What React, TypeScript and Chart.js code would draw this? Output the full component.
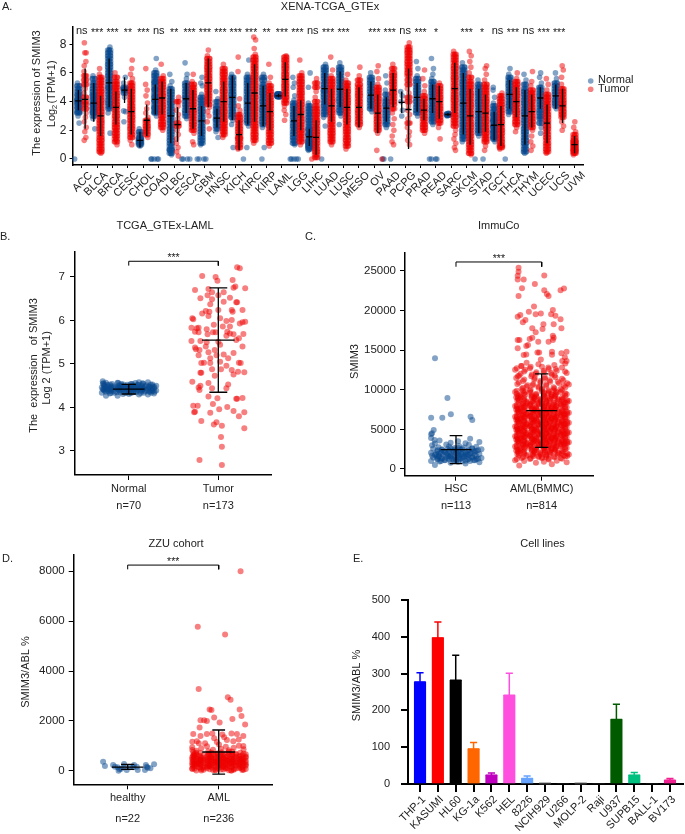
import React, { useEffect, useRef } from "react";
import { Chart, registerables } from "chart.js";

Chart.register(...registerables);

const FONT = "'Liberation Sans', Arial, sans-serif";
const INK = "#222222";
const BLUE = "rgba(8,72,142,0.5)";
const RED = "rgba(240,0,0,0.5)";

/* ---------- Panel A ---------- */
const cancers = ["ACC","BLCA","BRCA","CESC","CHOL","COAD","DLBC","ESCA","GBM","HNSC","KICH","KIRC","KIRP","LAML","LGG","LIHC","LUAD","LUSC","MESO","OV","PAAD","PCPG","PRAD","READ","SARC","SKCM","STAD","TGCT","THCA","THYM","UCEC","UCS","UVM"];
const cancerSig = ["ns","***","***","**","***","ns","**","***","***","***","***","***","**","***","***","ns","***","***","","***","***","ns","***","*","","***","*","ns","***","ns","***","***",""];
const normalA: number[][] = [
  [0,2.5,3.0,3.2,3.3,3.5,3.6,3.8,3.9,4.0,4.1,4.2,4.4,4.5,4.7,4.9,5.1,5.3],
  [2.1,2.8,3.0,3.2,3.3,3.5,3.6,3.8,3.9,4.1,4.2,4.4,4.5,4.7,4.9,5.1,5.3,5.6,5.8],
  [1.8,3.2,3.5,3.7,3.9,4.1,4.3,4.5,4.7,4.9,5.0,5.2,5.4,5.6,5.8,6.0,6.2,6.4,6.6,6.8,7.0,7.2,7.4,7.6,7.8],
  [2.6,3.3,3.35,4.3,4.6,4.8,4.9,5.0,5.3,5.7],
  [0.9,1.0,1.1,1.2,1.3,1.4,1.5,1.7,1.9,2.1],
  [0,0,0,0,0,3.0,3.2,3.3,3.5,3.6,3.8,4.0,4.1,4.3,4.4,4.6,4.8,4.9,5.1,5.3,5.4,5.6,5.8,6.0,6.2,7.0],
  [0.3,0.4,0.6,0.7,0.9,1.1,1.3,1.5,1.7,1.9,2.1,2.3,2.5,2.7,2.9,3.1,3.3,3.5,3.7,3.9,4.1,4.3,4.5,4.7,4.9,5.1,5.4,5.9],
  [0,0,0,0,2.8,3.0,3.2,3.4,3.6,3.8,4.0,4.2,4.3,4.5,4.7,4.9,5.1,5.3,5.6,5.9,6.7],
  [0,0,0,0,1.0,1.1,1.3,1.5,1.7,1.9,2.1,2.3,2.5,2.7,2.9,3.1,3.3,3.5,3.7,3.9,4.1,4.3,4.5,5.1,5.3,5.7],
  [1.5,1.9,2.1,2.3,2.5,2.7,2.8,3.0,3.2,3.3,3.5,3.7,4.0,4.2,4.7],
  [0.8,2.4,2.7,2.9,3.1,3.3,3.5,3.7,3.9,4.1,4.3,4.5,4.7,4.9,5.1,5.3,5.5,5.7,5.9],
  [0,0.8,2.3,2.5,2.7,2.9,3.1,3.3,3.5,3.7,3.9,4.1,4.3,4.5,4.7,4.9,5.1,5.3,5.5,5.7,5.9,6.9],
  [0,0.8,2.2,2.4,2.6,2.8,3.0,3.2,3.4,3.6,3.8,4.0,4.2,4.4,4.6,4.8,5.0,5.2,5.5,5.7,5.9],
  [4.3,4.35,4.4,4.4,4.45,4.45,4.5,4.5,4.55,4.35,4.4,4.45],
  [0,0,0,0,0,1.0,1.1,1.3,1.5,1.7,1.9,2.1,2.3,2.5,2.7,2.9,3.1,3.3,3.5,3.7,3.9,4.1,4.4,5.0,5.3,5.7],
  [0.6,0.7,0.8,0.9,1.0,1.1,1.2,1.3,1.4,1.6,1.7,1.8,2.0,2.1,2.3,2.5,2.7,2.9,3.1,3.3,3.5,3.7,3.9,5.0,6.0],
  [0,2.3,2.9,3.1,3.3,3.5,3.7,3.9,4.1,4.3,4.5,4.7,4.8,5.0,5.2,5.4,5.6,5.8,6.0,6.2,6.4,6.6],
  [2.4,3.0,3.2,3.4,3.6,3.8,4.0,4.2,4.4,4.6,4.8,5.0,5.2,5.4,5.6,5.8,6.0,6.2,6.4,6.7],
  [],
  [3.3,3.5,3.7,3.9,4.1,4.3,4.5,4.7,4.9,5.1,5.3,5.5,5.7,6.0],
  [0,0,0,2.2,2.4,2.6,2.8,3.0,3.2,3.4,3.6,3.8,4.0,4.2,4.5,4.8,5.3,5.8],
  [3.0,3.4,4.0,4.4,4.7],
  [3.0,3.2,3.4,3.6,3.8,4.0,4.2,4.4,4.6,4.8,5.0,5.2,5.4,5.6,5.8,6.3,6.8],
  [0,0,0,0,2.4,2.6,2.8,3.0,3.2,3.4,3.6,3.8,4.0,4.2,4.4,4.6,4.8,5.0,5.2,5.4,5.6,5.9,6.3,7.0],
  [3.0,3.05,3.1,3.15,3.2],
  [1.2,1.4,1.6,1.8,2.0,2.2,2.4,2.6,2.8,3.0,3.2,3.4,3.6,3.8,4.0,4.2,4.4,4.6,4.8,5.0,5.2,5.4,5.6,5.8,6.0,6.2,6.4,6.7],
  [0,0,1.6,1.8,2.0,2.2,2.4,2.6,2.8,3.0,3.2,3.4,3.6,3.8,4.0,4.2,4.4,4.6,4.8,5.0,5.2,5.5],
  [1.2,1.4,1.5,1.6,1.8,1.9,2.0,2.2,2.3,2.4,2.6,2.7,2.8,3.0,3.1,3.3,3.5,3.7,3.9,4.3,4.8,5.0],
  [0,3.1,3.3,3.5,3.7,3.9,4.1,4.3,4.5,4.7,4.9,5.1,5.3,5.5,5.7,5.9,6.3],
  [0.4,0.5,0.7,0.9,1.1,1.3,1.5,1.7,1.9,2.1,2.3,2.5,2.7,2.9,3.1,3.3,3.5,3.7,3.9,4.1,4.3,4.5,4.7,4.9,5.2,5.5,5.9],
  [1.8,2.2,2.5,2.8,3.0,3.2,3.4,3.6,3.8,4.0,4.2,4.4,4.6,4.8,5.0,5.3,5.7,6.0],
  [3.5,3.7,3.9,4.1,4.3,4.5,4.7,4.9,5.1,5.3,5.6,6.0],
  [],
];
const tumorA: number[][] = [
  [1.3,1.5,1.9,2.2,2.6,2.9,3.2,3.5,3.8,4.0,4.3,4.6,4.9,5.2,5.5,5.8,6.1,6.5,6.8,7.4,7.4,8.1],
  [0.4,0.5,0.7,0.9,1.1,1.3,1.5,1.7,1.9,2.1,2.3,2.5,2.7,2.9,3.1,3.3,3.5,3.7,3.9,4.1,4.3,4.5,4.7,4.9,5.1,5.3,5.5,5.7,5.9,6.3],
  [1.0,1.2,1.4,1.6,1.8,2.0,2.2,2.4,2.6,2.8,3.0,3.2,3.4,3.6,3.8,4.0,4.2,4.4,4.6,4.8,5.0,5.2,5.4,5.7,6.0],
  [1.0,1.3,1.5,1.7,1.9,2.1,2.3,2.5,2.7,2.9,3.1,3.3,3.5,3.7,3.9,4.1,4.3,4.5,4.7,4.9,5.1,5.3,5.6,5.9,6.3,6.9],
  [1.5,1.7,1.9,2.1,2.3,2.5,2.7,2.9,3.2,3.5,3.9,4.4,4.8,5.2,6.3],
  [2.0,2.2,2.4,2.6,2.8,3.0,3.2,3.4,3.6,3.8,4.0,4.2,4.4,4.6,4.8,5.0,5.2,5.4,5.6,5.8,6.6],
  [0.2,0.5,0.8,1.1,1.4,1.7,2.0,2.3,2.5,2.8,3.1,3.4,3.7,4.0,4.3],
  [1.0,1.2,1.8,2.0,2.2,2.4,2.6,2.8,3.0,3.2,3.4,3.6,3.8,4.0,4.2,4.4,4.6,4.8,5.0,5.2,5.4,5.9],
  [2.1,2.6,3.0,3.3,3.6,3.8,4.0,4.2,4.4,4.6,4.8,5.0,5.2,5.4,5.6,5.8,6.0,6.2,6.4,6.6,6.8,7.0,7.2,7.6],
  [1.5,1.7,1.9,2.1,2.3,2.5,2.7,2.9,3.1,3.3,3.5,3.7,3.9,4.1,4.3,4.5,4.7,4.9,5.1,5.3,5.5,5.7,5.9,6.1,6.3,6.6],
  [0.7,0.8,1.0,1.2,1.4,1.5,1.7,1.9,2.1,2.3,2.5,2.7,2.9,3.1,3.4,3.7,4.2,6.1,7.1],
  [1.1,1.3,1.5,1.7,1.9,2.1,2.3,2.5,2.7,2.9,3.1,3.3,3.5,3.7,3.9,4.1,4.3,4.5,4.7,4.9,5.1,5.3,5.5,5.7,5.9,6.1,6.3,6.5,6.7,6.9,7.1,7.3,7.7,8.3,8.5],
  [0.9,1.1,1.3,1.5,1.7,1.9,2.1,2.3,2.5,2.7,2.9,3.1,3.3,3.5,3.7,3.9,4.1,4.3,4.5,4.7,4.9,5.1,5.3,5.7,6.6],
  [2.7,3.1,3.4,3.7,3.9,4.1,4.3,4.5,4.7,4.9,5.1,5.3,5.5,5.7,5.9,6.1,6.3,6.5,6.7,6.9,7.1,7.2],
  [1.0,1.2,1.4,1.6,1.8,2.0,2.2,2.4,2.6,2.8,3.0,3.2,3.4,3.6,3.8,4.0,4.2,4.4,4.6,4.8,5.0,5.2,5.4,5.6,5.8,6.0,6.9],
  [0,0.1,0.3,0.5,0.7,0.9,1.1,1.3,1.5,1.7,1.9,2.1,2.3,2.5,2.7,2.9,3.1,3.3,3.5,3.7,4.0,4.3,4.7,5.0,5.3,5.6],
  [1.0,1.2,1.4,1.6,1.8,2.0,2.2,2.4,2.6,2.8,3.0,3.2,3.4,3.6,3.8,4.0,4.2,4.4,4.6,4.8,5.0,5.2,5.4,5.6,5.8,6.2,7.1],
  [0.7,0.9,1.1,1.3,1.5,1.7,1.9,2.1,2.3,2.5,2.7,2.9,3.1,3.3,3.5,3.7,3.9,4.1,4.3,4.5,4.7,4.9,5.1,5.3,5.5,5.9],
  [2.2,2.4,2.6,2.8,3.0,3.2,3.4,3.6,3.8,4.0,4.2,4.4,4.6,4.8,5.0,5.2,5.5,5.8,6.4],
  [0,0.6,1.8,2.0,2.2,2.4,2.6,2.8,3.0,3.2,3.4,3.6,3.8,4.0,4.2,4.4,4.6,4.8,5.0,5.2,5.6,6.1,6.5],
  [1.0,1.2,1.6,2.0,2.4,2.8,3.2,3.5,3.8,4.0,4.2,4.4,4.6,4.8,5.0,5.2,5.4,5.6,5.8,6.0,6.3,6.6],
  [1.0,1.3,1.6,1.9,2.2,2.5,2.8,3.1,3.4,3.7,4.0,4.3,4.6,4.9,5.2,5.5,5.8,6.0,6.2,6.4,6.6,6.8,7.0,7.2,7.4,7.6,7.8,8.1],
  [1.8,2.0,2.2,2.4,2.6,2.8,3.0,3.2,3.4,3.6,3.8,4.0,4.2,4.4,4.7,5.1,5.6,6.2],
  [1.4,2.2,2.5,2.7,2.9,3.1,3.3,3.5,3.7,3.9,4.1,4.3,4.5,4.7,4.9,5.1,5.3],
  [0.6,0.8,1.1,1.4,1.7,2.0,2.3,2.5,2.7,2.9,3.1,3.3,3.5,3.7,3.9,4.1,4.3,4.5,4.7,4.9,5.1,5.3,5.5,5.7,5.9,6.1,6.3,6.5,6.7,6.9,7.1,7.3,7.5],
  [0.3,0.4,0.6,0.8,1.0,1.2,1.4,1.6,1.8,2.0,2.2,2.4,2.6,2.8,3.0,3.2,3.4,3.6,3.8,4.0,4.2,4.4,4.6,4.8,5.0,5.2,5.4,5.7,6.0,6.4,6.8,7.2,7.5],
  [0.6,0.9,1.2,1.4,1.6,1.8,2.0,2.2,2.4,2.6,2.8,3.0,3.2,3.4,3.6,3.8,4.0,4.2,4.4,4.6,4.8,5.0,5.2,5.5,5.9,6.3,6.5],
  [0.7,0.8,0.9,1.0,1.2,1.4,1.6,1.8,2.0,2.2,2.4,2.6,2.8,3.0,3.2,3.4,3.6,3.8,4.0,4.2,4.4,4.6],
  [1.9,2.2,2.4,2.6,2.8,3.0,3.2,3.4,3.6,3.8,4.0,4.2,4.4,4.6,4.8,5.0,5.2,5.4,5.6,6.0],
  [0.6,0.9,1.2,1.6,2.0,2.2,2.4,2.6,2.8,3.0,3.2,3.4,3.6,3.8,4.0,4.2,4.4,4.6,4.8,5.1,5.4,6.1],
  [0.4,0.5,0.7,0.9,1.1,1.3,1.5,1.7,1.9,2.1,2.3,2.5,2.7,2.9,3.1,3.3,3.5,3.7,3.9,4.1,4.3,4.5,4.8,5.2,5.6],
  [2.0,2.3,2.6,2.9,3.1,3.3,3.5,3.7,3.9,4.1,4.3,4.5,4.7,4.9,5.2,5.7,6.2,6.5],
  [0.3,0.4,0.5,0.6,0.7,0.8,0.9,1.0,1.1,1.2,1.3,1.5,1.7,1.9,2.2,2.6],
];
const normalMeanA = [4.05,3.9,5.3,4.8,1.3,4.15,3.0,4.2,2.65,2.85,4.3,3.9,3.7,4.4,2.65,1.55,4.9,4.86,null,4.45,3.55,3.95,4.3,4.2,3.1,3.9,3.3,2.35,4.5,3.0,4.25,4.4,null];
const normalLowA = [3.4,2.6,3.6,3.9,0.8,3.1,1.1,3.2,1.6,2.2,2.7,2.4,2.3,4.3,1.6,0.9,3.8,3.6,null,3.5,2.6,3.2,3.3,3.2,3.0,1.7,1.8,1.3,3.5,1.0,3.5,3.5,null];
const normalHighA = [4.8,5.3,7.0,5.7,1.9,5.2,4.9,5.3,3.7,3.5,5.8,5.3,5.1,4.55,3.7,2.1,6.0,6.1,null,5.4,4.3,4.7,5.3,5.2,3.2,6.0,4.9,3.3,5.5,4.8,5.0,5.2,null];
const tumorMeanA = [4.15,3.0,3.6,3.3,2.7,4.25,2.4,3.5,5.3,4.0,1.7,4.6,3.3,5.55,3.1,1.5,3.7,3.6,3.6,3.2,4.8,3.45,3.4,4.0,4.9,3.0,3.2,2.4,4.0,3.3,2.5,3.7,1.0];
const tumorLowA = [2.1,1.6,2.4,1.7,1.6,3.1,1.2,2.1,3.6,2.6,0.6,2.6,2.0,4.35,2.0,0.3,2.6,2.4,2.2,1.8,3.6,0.7,2.7,2.8,3.2,1.0,1.9,0.9,2.9,2.2,1.1,2.5,0.4];
const tumorHighA = [6.3,4.4,4.7,4.9,3.8,5.4,3.6,4.8,7.0,5.4,2.7,6.6,4.6,6.75,4.1,2.7,4.9,4.9,5.0,4.5,6.0,6.3,4.2,5.1,6.7,4.9,4.5,3.7,5.0,4.5,3.8,4.9,1.6];
const yTicksA = [0,2,4,6,8];

/* jitter tables used to spread dots sideways */
const jitterNarrow = [-0.06,0.05,-0.02,0.07,-0.05,0.02,0.06,-0.07,0.04,-0.04,0.07,-0.06,0.0,0.05,-0.05,0.03,-0.07];
const jitterWide = [-0.82,0.37,-0.21,0.91,0.08,-0.64,0.55,-0.97,0.26,-0.43,0.74,0.01,-0.73,0.46,-0.12,0.86,-0.55,0.17,-0.33,0.99,-0.89,0.63,-0.05,0.31,-0.68,0.79,-0.27,0.12,-0.93,0.5,-0.38];

/* ---------- Panel B ---------- */
const groupsB = ["Normal","Tumor"];
const countsB = ["n=70","n=173"];
const normalB = [4.27,4.3,4.31,4.32,4.33,4.33,4.34,4.34,4.35,4.35,4.36,4.36,4.37,4.37,4.37,4.38,4.38,4.39,4.39,4.39,4.4,4.4,4.4,4.41,4.41,4.41,4.42,4.42,4.42,4.43,4.43,4.43,4.44,4.44,4.44,4.45,4.45,4.45,4.46,4.46,4.46,4.47,4.47,4.48,4.48,4.48,4.49,4.49,4.5,4.5,4.5,4.51,4.51,4.52,4.52,4.53,4.53,4.54,4.54,4.55,4.55,4.56,4.57,4.58];
const normalBOutliers: [number, number][] = [[-0.29,4.6]];
const tumorB: [number, number][] = [[0.21,7.22],[0.24,7.2],[-0.18,7.02],[-0.03,7.0],[-0.01,6.91],[0.16,6.93],[-0.26,6.7],[-0.11,6.72],[0.3,6.74],[0.19,6.78],[0.17,6.75],[-0.07,6.65],[-0.2,6.51],[-0.12,6.58],[0,6.58],[0.13,6.52],[0.06,6.65],[-0.07,6.49],[-0.09,6.37],[0.06,6.43],[0.21,6.42],[0.2,6.42],[-0.29,6.05],[-0.28,6.03],[-0.18,6.16],[-0.14,6.22],[-0.1,6.2],[-0.11,6.1],[0,6.24],[0.15,6.24],[0.16,6.2],[0.27,6.24],[0.02,6.05],[0.15,6.01],[0.09,5.99],[0.3,5.97],[0.27,5.96],[0.24,5.93],[-0.05,5.9],[0.05,5.86],[0.13,5.86],[-0.3,5.83],[-0.24,5.82],[-0.22,5.83],[-0.26,5.74],[-0.22,5.73],[-0.13,5.8],[-0.06,5.73],[-0.03,5.73],[-0.12,5.68],[0.1,5.74],[0.13,5.7],[0.17,5.68],[0.09,5.65],[0.28,5.69],[0.23,5.59],[0.2,5.55],[-0.3,5.53],[-0.2,5.53],[-0.13,5.5],[0,5.51],[0.02,5.44],[0.27,5.4],[-0.26,5.38],[-0.21,5.32],[-0.14,5.4],[-0.25,5.34],[-0.04,5.32],[-0.11,5.27],[0.06,5.22],[0.17,5.25],[-0.22,5.2],[-0.02,5.2],[0.11,5.13],[-0.09,5.13],[-0.16,5.03],[-0.19,5.02],[-0.09,5.02],[0.23,5.03],[0.25,5.02],[0.02,5.05],[0.09,4.96],[-0.07,4.88],[0.03,4.88],[0.15,4.86],[0.22,4.82],[0.29,4.81],[-0.19,4.8],[-0.2,4.8],[0.17,4.76],[-0.04,4.73],[-0.29,4.59],[-0.11,4.56],[0.11,4.53],[-0.2,4.5],[-0.22,4.46],[-0.07,4.44],[0.09,4.44],[-0.21,4.4],[-0.11,4.25],[-0.01,4.21],[0.21,4.2],[0.2,4.2],[0.27,4.22],[-0.06,4.08],[-0.28,4.04],[-0.23,4.04],[0.01,3.96],[0.1,4.01],[0.17,3.92],[-0.26,3.9],[-0.27,3.89],[-0.09,3.88],[0.29,3.89],[0.23,3.8],[-0.19,3.69],[-0.02,3.66],[-0.05,3.61],[0.04,3.58],[0.29,3.52],[0.03,3.32],[0.04,3.1],[-0.21,2.79],[0.04,2.68]];
const statsB = { mean: [4.42,5.55], low: [4.31,4.35], high: [4.53,6.75] };
const yTicksB = [3,4,5,6,7];

/* ---------- Panel C ---------- */
const groupsC = ["HSC","AML(BMMC)"];
const countsC = ["n=113","n=814"];
const hscSparse: [number, number][] = [[-0.245,13950],[-0.1,8950],[-0.06,6890],[-0.29,6470],[-0.16,6470],[0.17,6600],[0.19,6180],[-0.26,4920],[-0.28,4500],[-0.29,4380],[-0.25,3650]];
const hscDense = [500,700,800,850,900,950,1000,1000,1050,1100,1100,1150,1200,1200,1250,1300,1300,1350,1400,1400,1450,1500,1500,1550,1600,1600,1650,1700,1700,1750,1800,1800,1850,1900,1900,1950,2000,2000,2050,2100,2150,2200,2200,2250,2300,2300,2350,2400,2450,2500,2500,2550,2600,2650,2700,2750,2800,2850,2900,3000,3050,3100,3200,3250,3300,3400,3500,3600,3800,3900];
const amlSparse: [number, number][] = [[-0.27,25380],[-0.27,24870],[-0.28,24370],[-0.28,23900],[-0.21,23900],[0.03,24400],[-0.08,23320],[-0.23,22800],[0.03,22520],[0.06,22060],[0.08,21800],[-0.27,21800],[0.26,22770],[0.22,22520],[-0.09,20500],[-0.15,19830],[-0.07,19500],[-0.01,19620],[0.13,20040],[0.11,19500],[-0.28,19200],[-0.25,19400],[0.16,19330],[0.22,18870],[-0.19,18780],[-0.22,18490],[0.02,18240],[0.14,18240],[-0.11,17730],[0.23,17730],[0.01,17650],[-0.07,17230],[0.13,16800],[0.14,16550],[-0.11,16550],[-0.26,16260],[-0.28,16260],[-0.14,16390],[-0.04,16050],[0.08,16050],[0.13,16260],[-0.16,15630],[-0.18,15500],[-0.28,15210],[-0.05,14700],[-0.03,14700],[0.12,14790],[0.29,14790],[0.23,14580],[-0.18,14450],[-0.21,14370],[0.12,14400],[-0.01,13800],[0.27,14100],[0.24,13600],[0.29,13600],[-0.24,13000]];
const amlDense = [450,600,800,850,900,1000,1050,1100,1200,1250,1300,1350,1400,1480,1520,1600,1650,1700,1780,1820,1900,1950,2000,2050,2120,2180,2220,2300,2340,2400,2440,2500,2560,2600,2650,2700,2750,2800,2830,2900,2950,3000,3030,3080,3120,3150,3200,3240,3280,3320,3360,3400,3430,3480,3520,3560,3600,3630,3680,3720,3750,3800,3840,3880,3910,3950,4000,4030,4070,4120,4150,4200,4230,4280,4320,4360,4400,4430,4480,4520,4560,4600,4630,4680,4720,4750,4800,4840,4880,4910,4950,5000,5030,5070,5120,5150,5200,5230,5280,5320,5360,5400,5430,5480,5520,5560,5600,5630,5680,5720,5750,5800,5840,5880,5910,5950,6000,6030,6070,6120,6150,6200,6230,6280,6320,6360,6400,6430,6480,6520,6560,6600,6630,6680,6720,6750,6800,6840,6880,6910,6950,7000,7040,7090,7130,7180,7220,7270,7310,7360,7400,7450,7490,7540,7580,7630,7680,7720,7770,7810,7860,7900,7950,8000,8040,8090,8150,8200,8250,8300,8350,8400,8460,8510,8560,8620,8670,8720,8780,8830,8900,8950,9000,9060,9130,9180,9250,9300,9370,9430,9500,9560,9630,9700,9780,9850,9930,10000,10080,10150,10250,10320,10400,10480,10550,10650,10720,10800,10900,11000,11080,11180,11280,11380,11480,11580,11680,11780,11900,12000,12100,12200,12300,12400,12500,12600,12700,12800,12900,13000,13100,13200,13300,13400];
const statsC = { mean: [2450,7350], low: [680,2730], high: [4200,12000] };
const yTicksC = [0,5000,10000,15000,20000,25000];

/* ---------- Panel D ---------- */
const groupsD = ["healthy","AML"];
const countsD = ["n=22","n=236"];
const healthyD: [number, number][] = [[-0.27,361],[-0.25,187],[-0.16,228],[-0.11,134],[-0.09,54],[-0.04,268],[-0.04,160],[-0.01,27],[0.03,134],[0.07,228],[0.06,134],[0.11,27],[0.19,27],[0.2,228],[0.22,120],[0.21,160],[0.25,94],[0.29,254],[-0.1,0],[-0.14,160],[-0.07,80],[0.1,160]];
const amlSparseD: [number, number][] = [[0.24,8000],[-0.23,5780],[0.07,5460],[-0.22,3280],[0.1,2945],[0.13,2850],[-0.1,2460],[-0.08,2440],[0.23,2460],[0.25,2195],[-0.05,2130],[0.15,2075],[-0.2,2020],[-0.16,2020],[-0.13,1995],[0.01,1930],[0.29,1850],[-0.21,1730],[-0.28,1470],[-0.13,1470],[-0.07,1490],[-0.2,1390],[0.14,1490],[0.2,1470],[0.27,1390],[-0.05,1300],[0.06,1340],[-0.29,1165],[0.09,1230],[0.27,990],[-0.29,830],[-0.02,1150],[0.16,1180],[-0.15,1100],[0.22,1250],[0.04,1450],[-0.24,1180]];
const amlDenseD = [10,20,30,40,50,60,70,80,90,100,110,120,130,140,150,160,170,180,190,200,205,210,220,225,230,240,245,250,260,265,270,280,285,290,300,305,310,320,325,330,340,345,350,360,365,370,380,385,390,400,405,410,420,425,430,440,445,450,460,465,470,480,485,490,500,505,510,520,530,540,550,560,570,580,590,600,610,620,630,640,650,660,670,680,690,700,710,720,730,740,750,760,780,800,820,840,860,880,900,920,940,960,980,1000,1050,1100,10,40,80,120,160,200,240,280,320,360,400,440,480,520,560,600,640,680,720,760];
const statsD = { mean: [147,750], low: [54,-134], high: [254,1633] };
const yTicksD = [0,2000,4000,6000,8000];

/* ---------- Panel E ---------- */
const cellLines = ["THP-1","KASUMI","HL60","KG-1a","K562","HEL","8226","NCIH929","U266","MOLP-2","Raji","U937","SUPB15","BALL-1","BV173"];
const cellValues = [277,397,282,95,24,241,15,1,0,1,0,175,24,0,10];
const cellUpper = [302,440,350,113,30,301,22,1,0,1,0,217,31,0,15];
const cellColors = ["#0000FF","#FF0000","#000000","#FF6600","#BF00BF","#FF4FDF","#66A3FF","#333333","#333333","#333333","#333333","#005B00","#00C07F","#333333","#F02090"];
const yTicksE = [0,100,200,300,400,500];

/* ---------- helpers ---------- */
type TextItem = { t: string; x?: number; xv?: number; y: number; font?: string; align?: CanvasTextAlign; rot?: boolean; base?: CanvasTextBaseline };
const f = (s: number) => `${s}px ${FONT}`;

function textPlugin(items: TextItem[], extra?: (c: any) => void) {
  return {
    id: "panelText",
    afterDraw(chart: any) {
      const c = chart.ctx;
      c.save();
      c.fillStyle = INK;
      for (const it of items) {
        const x = it.xv !== undefined ? chart.scales.x.getPixelForValue(it.xv) : (it.x as number);
        c.save();
        c.translate(x, it.y);
        if (it.rot) c.rotate(-Math.PI / 2);
        c.font = it.font || f(11);
        c.textAlign = it.align || "center";
        c.textBaseline = it.base || "middle";
        c.fillText(it.t, 0, 0);
        c.restore();
      }
      if (extra) extra(c);
      c.restore();
    },
  };
}

const GAP = { x: NaN, y: NaN };
function dotSet(data: { x: number; y: number }[], color: string, r: number, order: number) {
  return { type: "scatter", data, backgroundColor: color, borderWidth: 0, pointRadius: r, pointHoverRadius: r, order, clip: false };
}
function lineSet(data: { x: number; y: number }[], width: number, color = "#000000") {
  return { type: "scatter", data, showLine: true, borderColor: color, borderWidth: width, pointRadius: 0, pointHoverRadius: 0, fill: false, order: 0, spanGaps: false, clip: false };
}
function whisker(x: number, mean: number, lo: number, hi: number, capW: number, meanW: number) {
  const out = [{ x, y: lo }, { x, y: hi }, GAP, { x: x - meanW, y: mean }, { x: x + meanW, y: mean }, GAP];
  if (capW > 0) out.push({ x: x - capW, y: lo }, { x: x + capW, y: lo }, GAP, { x: x - capW, y: hi }, { x: x + capW, y: hi }, GAP);
  return out;
}
function bracket(yTop: number, yLeg: number) {
  return [{ x: 0, y: yLeg }, { x: 0, y: yTop }, { x: 1, y: yTop }, { x: 1, y: yLeg }];
}
const wide = (centre: number, values: number[], spread: number, shift = 0) =>
  values.map((y, i) => ({ x: centre + jitterWide[(i + shift) % jitterWide.length] * spread, y }));
const fromPairs = (centre: number, pairs: [number, number][]) => pairs.map(([j, y]) => ({ x: centre + j, y }));

/* One dot per read value; values inside a crowded stretch of the column stand for several samples. */
function columnDots(values: number[], centre: number, seed: number) {
  const out: { x: number; y: number }[] = [];
  values.forEach((y, i) => {
    const j = jitterNarrow[(i + seed) % jitterNarrow.length];
    if (y === 0) { out.push({ x: centre + j * 4, y }); return; }
    const prev = values[i - 1] ?? -9;
    const next = values[i + 1] ?? 99;
    out.push({ x: centre + j, y });
    if (y - prev <= 0.3 && next - y <= 0.3) {
      out.push({ x: centre - 0.1, y }, { x: centre + 0.1, y }, { x: centre - j, y: y });
    }
  });
  return out;
}

type Box = { l: number; t: number; r: number; b: number };
function makeChart(
  canvas: HTMLCanvasElement,
  box: Box,
  datasets: any[],
  xr: [number, number],
  yr: [number, number],
  xTickVals: number[],
  xLabels: string[],
  yTickVals: number[],
  style: { xFont: number; yFont: number; yPad: number; yLen: number; xLen: number; xPad: number; rot: number; labelOffset: number; axis: number; tickW: number },
  plugin: any,
) {
  return new Chart(canvas, {
    type: "scatter",
    data: { datasets },
    plugins: [plugin],
    options: {
      animation: false,
      responsive: false,
      devicePixelRatio: 1,
      layout: { padding: { left: 0, top: box.t, right: 685 - box.r, bottom: 0 } },
      plugins: { legend: { display: false }, tooltip: { enabled: false }, title: { display: false } },
      events: [],
      scales: {
        x: {
          type: "linear",
          offset: false,
          min: xr[0],
          max: xr[1],
          afterBuildTicks: (s: any) => { s.ticks = xTickVals.map((v) => ({ value: v })); },
          afterFit: (s: any) => { s.height = 834 - box.b; },
          border: { display: true, color: "#000", width: style.axis },
          grid: { display: true, drawOnChartArea: false, drawTicks: true, tickLength: style.xLen, color: "#000", lineWidth: style.tickW, offset: false },
          ticks: {
            autoSkip: false,
            minRotation: style.rot,
            maxRotation: style.rot,
            padding: style.xPad,
            labelOffset: style.labelOffset,
            color: INK,
            font: { size: style.xFont, family: FONT },
            callback: (v: any) => xLabels[xTickVals.indexOf(v)] ?? "",
          },
        },
        y: {
          type: "linear",
          min: yr[0],
          max: yr[1],
          afterBuildTicks: (s: any) => { s.ticks = yTickVals.map((v) => ({ value: v })); },
          afterFit: (s: any) => { s.width = box.l; },
          border: { display: true, color: "#000", width: style.axis },
          grid: { display: true, drawOnChartArea: false, drawTicks: true, tickLength: style.yLen, color: "#000", lineWidth: style.tickW },
          ticks: {
            padding: style.yPad,
            color: INK,
            font: { size: style.yFont, family: FONT },
            callback: (v: any) => String(v),
          },
        },
      },
    } as any,
  } as any);
}

function buildA(canvas: HTMLCanvasElement) {
  const normalDots: any[] = [];
  const tumorDots: any[] = [];
  let lines: any[] = [];
  const dodge = 0.22;
  cancers.forEach((_, g) => {
    const hasN = normalA[g].length > 0;
    const cN = g - dodge;
    const cT = hasN ? g + dodge : g;
    normalDots.push(...columnDots(normalA[g], cN, g * 3));
    tumorDots.push(...columnDots(tumorA[g], cT, g * 5));
    if (hasN) lines = lines.concat(whisker(cN, normalMeanA[g] as number, normalLowA[g] as number, normalHighA[g] as number, 0, 0.2));
    lines = lines.concat(whisker(cT, tumorMeanA[g], tumorLowA[g], tumorHighA[g], 0, 0.2));
  });
  const items: TextItem[] = [
    { t: "A.", x: 2, y: 7, align: "left" },
    { t: "XENA-TCGA_GTEx", x: 330, y: 7 },
    { t: "The expression of SMIM3", x: 37, y: 93, rot: true },
    { t: "Log", x: 52, y: 118, rot: true },
    { t: "2", x: 55, y: 107, rot: true, font: f(8) },
    { t: "(TPM+1)", x: 52, y: 82, rot: true },
    { t: "Normal", x: 598, y: 80, align: "left" },
    { t: "Tumor", x: 598, y: 88.5, align: "left" },
  ];
  cancerSig.forEach((s, i) => { if (s) items.push({ t: s, xv: i, y: s === "ns" ? 31 : 33, font: f(s === "ns" ? 11 : 10.5) }); });
  return makeChart(
    canvas,
    { l: 72.5, t: 27, r: 583, b: 165 },
    [lineSet(lines, 1.3), dotSet(tumorDots, RED, 2.8, 1), dotSet(normalDots, BLUE, 2.8, 2)],
    [-0.6, 32.55],
    [-0.42, 9.2],
    cancers.map((_, i) => i),
    cancers,
    yTicksA,
    { xFont: 11, yFont: 12, yPad: 3, yLen: 3, xLen: 3, xPad: 1, rot: 45, labelOffset: 9, axis: 1.5, tickW: 1 },
    textPlugin(items, (c) => {
      c.fillStyle = BLUE;
      c.beginPath(); c.arc(590.7, 81, 2.8, 0, 7); c.fill();
      c.fillStyle = RED;
      c.beginPath(); c.arc(590.7, 89.3, 2.8, 0, 7); c.fill();
    }),
  );
}

function twoGroup(
  canvas: HTMLCanvasElement,
  box: Box,
  datasets: any[],
  xr: [number, number],
  yr: [number, number],
  labels: string[],
  yTicks: number[],
  items: TextItem[],
  yPad: number,
) {
  return makeChart(canvas, box, datasets, xr, yr, [0, 1], labels, yTicks,
    { xFont: 11, yFont: 11.5, yPad, yLen: 5, xLen: 5, xPad: 2, rot: 0, labelOffset: 0, axis: 1.5, tickW: 1 },
    textPlugin(items));
}

function buildB(canvas: HTMLCanvasElement) {
  const lines = [
    ...whisker(0, statsB.mean[0], statsB.low[0], statsB.high[0], 0.08, 0.177),
    ...whisker(1, statsB.mean[1], statsB.low[1], statsB.high[1], 0.1, 0.182),
  ];
  return twoGroup(canvas, { l: 75, t: 251.7, r: 271.7, b: 475 },
    [lineSet(lines, 1.3), lineSet(bracket(7.36, 7.26), 1),
      dotSet(fromPairs(1, tumorB), RED, 3, 1),
      dotSet([...wide(0, normalB, 0.31), ...wide(0, normalB, 0.29, 9), ...fromPairs(0, normalBOutliers)], BLUE, 3, 2)],
    [-0.6, 1.596], [2.448, 7.58], groupsB, yTicksB,
    [
      { t: "B.", x: 0, y: 237, align: "left" },
      { t: "TCGA_GTEx-LAML", x: 165, y: 226 },
      { t: "The  expression   of SMIM3", x: 33.5, y: 365.5, rot: true },
      { t: "Log 2 (TPM+1)", x: 47, y: 368, rot: true },
      { t: "***", xv: 0.5, y: 258.5, font: f(10.5) },
      { t: countsB[0], xv: 0, y: 506 },
      { t: countsB[1], xv: 1, y: 506 },
    ], 5);
}

function buildC(canvas: HTMLCanvasElement) {
  const lines = [
    ...whisker(0, statsC.mean[0], statsC.low[0], statsC.high[0], 0.074, 0.18),
    ...whisker(1, statsC.mean[1], statsC.low[1], statsC.high[1], 0.078, 0.18),
  ];
  const amlPass2 = amlDense.filter((v) => v > 1200 && v < 13000);
  const amlPass3 = amlDense.filter((v) => v > 1500 && v < 10000);
  const hscPass2 = hscDense.filter((v) => v > 950 && v < 2700);
  return twoGroup(canvas, { l: 405, t: 252.3, r: 593.3, b: 475.7 },
    [lineSet(lines, 1.3), lineSet(bracket(26100, 25500), 1),
      dotSet([...wide(1, amlDense, 0.32), ...wide(1, amlPass2, 0.3, 7), ...wide(1, amlPass3, 0.3, 17), ...fromPairs(1, amlSparse)], RED, 3, 1),
      dotSet([...wide(0, hscDense, 0.3), ...wide(0, hscPass2, 0.24, 11), ...fromPairs(0, hscSparse)], BLUE, 3, 2)],
    [-0.595, 1.602], [-845, 27320], groupsC, yTicksC,
    [
      { t: "C.", x: 305, y: 237, align: "left" },
      { t: "ImmuCo", x: 498.7, y: 226 },
      { t: "SMIM3", x: 354.5, y: 361.5, rot: true },
      { t: "***", xv: 0.5, y: 259, font: f(10.5) },
      { t: countsC[0], xv: 0, y: 506 },
      { t: countsC[1], xv: 1, y: 506 },
    ], 4);
}

function buildD(canvas: HTMLCanvasElement) {
  const lines = [
    ...whisker(0, statsD.mean[0], statsD.low[0], statsD.high[0], 0.073, 0.174),
    ...whisker(1, statsD.mean[1], statsD.low[1], statsD.high[1], 0.07, 0.18),
  ];
  const amlPass2 = amlDenseD.filter((v) => v < 700);
  return twoGroup(canvas, { l: 73.7, t: 555, r: 272.7, b: 784.3 },
    [lineSet(lines, 1.3), lineSet(bracket(8250, 8080), 1),
      dotSet([...wide(1, amlDenseD, 0.3), ...wide(1, amlPass2, 0.3, 13), ...fromPairs(1, amlSparseD)], RED, 3, 1),
      dotSet(fromPairs(0, healthyD), BLUE, 3, 2)],
    [-0.593, 1.593], [-546, 8655], groupsD, yTicksD,
    [
      { t: "D.", x: 2, y: 559, align: "left" },
      { t: "ZZU cohort", x: 176, y: 544 },
      { t: "SMIM3/ABL %", x: 26, y: 672, rot: true },
      { t: "***", xv: 0.5, y: 562, font: f(10.5) },
      { t: countsD[0], xv: 0, y: 818.5 },
      { t: countsD[1], xv: 1, y: 818.5 },
    ], 4);
}

function buildE(canvas: HTMLCanvasElement) {
  const bars = {
    type: "bar",
    data: cellValues.map((v, i) => ({ x: i, y: v })),
    backgroundColor: cellColors,
    borderWidth: 0,
    barThickness: 11.5,
    order: 2,
  };
  const errs = cellValues.map((v, i) =>
    lineSet([{ x: i, y: v }, { x: i, y: cellUpper[i] }, GAP, { x: i - 0.2, y: cellUpper[i] }, { x: i + 0.2, y: cellUpper[i] }, GAP, { x: i - 0.32, y: v }, { x: i + 0.32, y: v }], 1.5, cellColors[i]),
  ).filter((_, i) => cellValues[i] > 0);
  return makeChart(canvas, { l: 408, t: 600, r: 683, b: 784 },
    [...errs, bars], [-0.673, 14.73], [0, 500],
    cellLines.map((_, i) => i), cellLines, yTicksE,
    { xFont: 11, yFont: 11, yPad: 11, yLen: 7, xLen: 8, xPad: 1, rot: 45, labelOffset: 4, axis: 2, tickW: 2 },
    textPlugin([
      { t: "E.", x: 353, y: 559, align: "left" },
      { t: "Cell lines", x: 542.5, y: 544 },
      { t: "SMIM3/ABL %", x: 356.5, y: 685.5, rot: true },
    ]));
}

export default function App() {
  const a = useRef<HTMLCanvasElement>(null);
  const b = useRef<HTMLCanvasElement>(null);
  const c = useRef<HTMLCanvasElement>(null);
  const d = useRef<HTMLCanvasElement>(null);
  const e = useRef<HTMLCanvasElement>(null);
  useEffect(() => {
    Chart.defaults.font.family = FONT;
    const charts = [buildA(a.current!), buildB(b.current!), buildC(c.current!), buildD(d.current!), buildE(e.current!)];
    return () => charts.forEach((x) => x.destroy());
  }, []);
  const st: React.CSSProperties = { position: "absolute", left: 0, top: 0 };
  return (
    <div style={{ position: "fixed", left: 0, top: 0, width: 685, height: 834, background: "#fff", overflow: "hidden" }}>
      <canvas ref={a} width={685} height={834} style={st} />
      <canvas ref={b} width={685} height={834} style={st} />
      <canvas ref={c} width={685} height={834} style={st} />
      <canvas ref={d} width={685} height={834} style={st} />
      <canvas ref={e} width={685} height={834} style={st} />
    </div>
  );
}
